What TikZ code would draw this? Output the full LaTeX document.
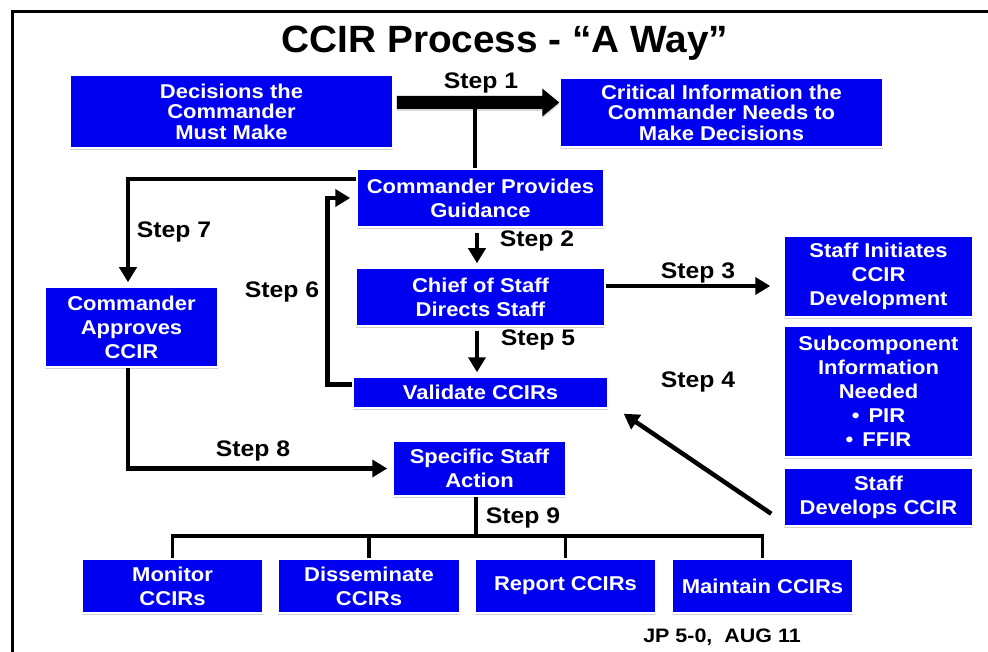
\documentclass[tikz,border=0pt]{standalone}
\usepackage{fontspec}
\setmainfont{Liberation Sans}[FakeStretch=1.1]
\newfontfamily\titlefont{Liberation Sans}[FakeStretch=1.02]
\usetikzlibrary{arrows.meta,shadows,calc}
\definecolor{ccblue}{RGB}{0,0,240}
\begin{document}
\begin{tikzpicture}[x=1pt,y=-1pt,
  box/.style={fill=ccblue, draw=white, line width=1.5pt, text=white,
    font=\bfseries\fontsize{20}{24}\selectfont, align=center, inner sep=0pt,
    drop shadow={shadow xshift=0pt, shadow yshift=-2pt, opacity=0.35}},
  tightbox/.style={box, font=\bfseries\fontsize{20}{20.5}\selectfont},
  steplab/.style={font=\bfseries\fontsize{22.5}{24}\selectfont, anchor=base},
  conn/.style={line width=4.5pt, draw=black},
  arr/.style={conn, -{Triangle[length=15pt,width=17pt]}},
  tree/.style={line width=3.5pt, draw=black}]
\useasboundingbox (0,0) rectangle (988,652);
\fill[white] (0,0) rectangle (988,652);
% frame
\draw[line width=3pt] (12,652) -- (12,12) -- (988,12);
% title
\node[font=\titlefont\bfseries\fontsize{38}{40}\selectfont, anchor=base] (title) at (505,53) {CCIR Process - “A Way”};
% boxes
\node[tightbox, minimum width=323, minimum height=73] (dec) at (231.5,111.5) {Decisions the\\Commander\\Must Make};
\node[tightbox, minimum width=323, minimum height=69] (crit) at (721.5,112.5) {Critical Information the\\Commander Needs to\\Make Decisions};
\node[box, minimum width=247, minimum height=58] (guid) at (480.5,198) {Commander Provides\\Guidance};
\node[box, minimum width=249, minimum height=58] (chief) at (480.5,297) {Chief of Staff\\Directs Staff};
\node[box, minimum width=255, minimum height=31] (valid) at (480.5,392.5) {Validate CCIRs};
\node[box, minimum width=173, minimum height=80] (appr) at (131.5,327) {Commander\\Approves\\CCIR};
\node[box, minimum width=189, minimum height=81] (init) at (878.5,276.5) {Staff Initiates\\CCIR\\Development};
\node[box, minimum width=189, minimum height=131] (sub) at (878.5,391.5) {Subcomponent\\Information\\Needed\\•\hspace{9pt}PIR\\•\hspace{9pt}FFIR};
\node[box, minimum width=189, minimum height=58] (dev) at (878.5,497) {Staff\\Develops CCIR};
\node[box, minimum width=173, minimum height=55] (spec) at (479.5,468.5) {Specific Staff\\Action};
\node[box, minimum width=181, minimum height=54] (mon) at (172.5,586) {Monitor\\CCIRs};
\node[box, minimum width=182, minimum height=54] (dis) at (369,586) {Disseminate\\CCIRs};
\node[box, minimum width=181, minimum height=54] (rep) at (565.5,586) {Report CCIRs};
\node[box, minimum width=181, minimum height=54] (mai) at (762.5,586) {Maintain CCIRs};
% step 1 big arrow
\coordinate (s1a) at ([xshift=3pt,yshift=9pt]dec.east);
\coordinate (s1b) at (s1a -| crit.west);
\fill[drop shadow={shadow xshift=0pt, shadow yshift=-2pt, opacity=0.3}]
  ([yshift=6.5pt]s1a) -- ([xshift=-17pt,yshift=6.5pt]s1b) -- ([xshift=-17pt,yshift=14pt]s1b)
  -- (s1b) -- ([xshift=-17pt,yshift=-14pt]s1b) -- ([xshift=-17pt,yshift=-6.5pt]s1b)
  -- ([yshift=-6.5pt]s1a) -- cycle;
\coordinate (gtop) at ([xshift=-5.5pt]guid.north);
\draw[conn] (gtop |- s1a) -- (gtop);
% step 2, 5
\draw[arr, shorten <=5pt, shorten >=4pt] ([xshift=-3.5pt]guid.south) -- ([xshift=-3.5pt]chief.north);
\draw[arr, shorten <=4pt, shorten >=4pt] ([xshift=-3.5pt]chief.south) -- ([xshift=-3.5pt]chief.south |- valid.north);
% step 3
\draw[arr, shorten >=13pt] ([yshift=11pt]chief.east) -- ([yshift=11pt]chief.east -| init.west);
% step 4
\draw[arr] ([xshift=-12pt,yshift=13pt]dev.south west) -- ([xshift=15pt,yshift=-5pt]valid.south east);
% step 6
\draw[arr, shorten >=6pt] ([yshift=8pt]valid.west) -- ++(-25,0) |- (guid.west);
% step 7
\draw[arr, shorten >=4pt] ([yshift=19pt]guid.west) -| ([xshift=-3.5pt]appr.north);
% step 8
\draw[arr, shorten >=5pt] ([xshift=-3.5pt]appr.south) |- (spec.west);
% step 9
\coordinate (bus) at ([xshift=-3.5pt,yshift=-39pt]spec.south);
\draw[tree] ([xshift=-3.5pt]spec.south) -- (bus);
\draw[tree] (mon.north) |- (bus -| mai.north) -- (mai.north);
\draw[tree] (dis.north) -- (dis.north |- bus);
\draw[tree] (rep.north) -- (rep.north |- bus);
% labels
\node[steplab] (l1) at (481,89) {Step 1};
\node[steplab] (l2) at (537,247) {Step 2};
\node[steplab] (l3) at (698,279) {Step 3};
\node[steplab] (l4) at (698,387) {Step 4};
\node[steplab] (l5) at (538,345) {Step 5};
\node[steplab] (l6) at (282,298) {Step 6};
\node[steplab] (l7) at (174,238) {Step 7};
\node[steplab] (l8) at (253,456) {Step 8};
\node[steplab] (l9) at (523,523) {Step 9};
\node[font=\bfseries\fontsize{19.5}{21}\selectfont, anchor=base] (jp) at (722,642) {JP 5-0,\ \ AUG 11};
\end{tikzpicture}
\end{document}
